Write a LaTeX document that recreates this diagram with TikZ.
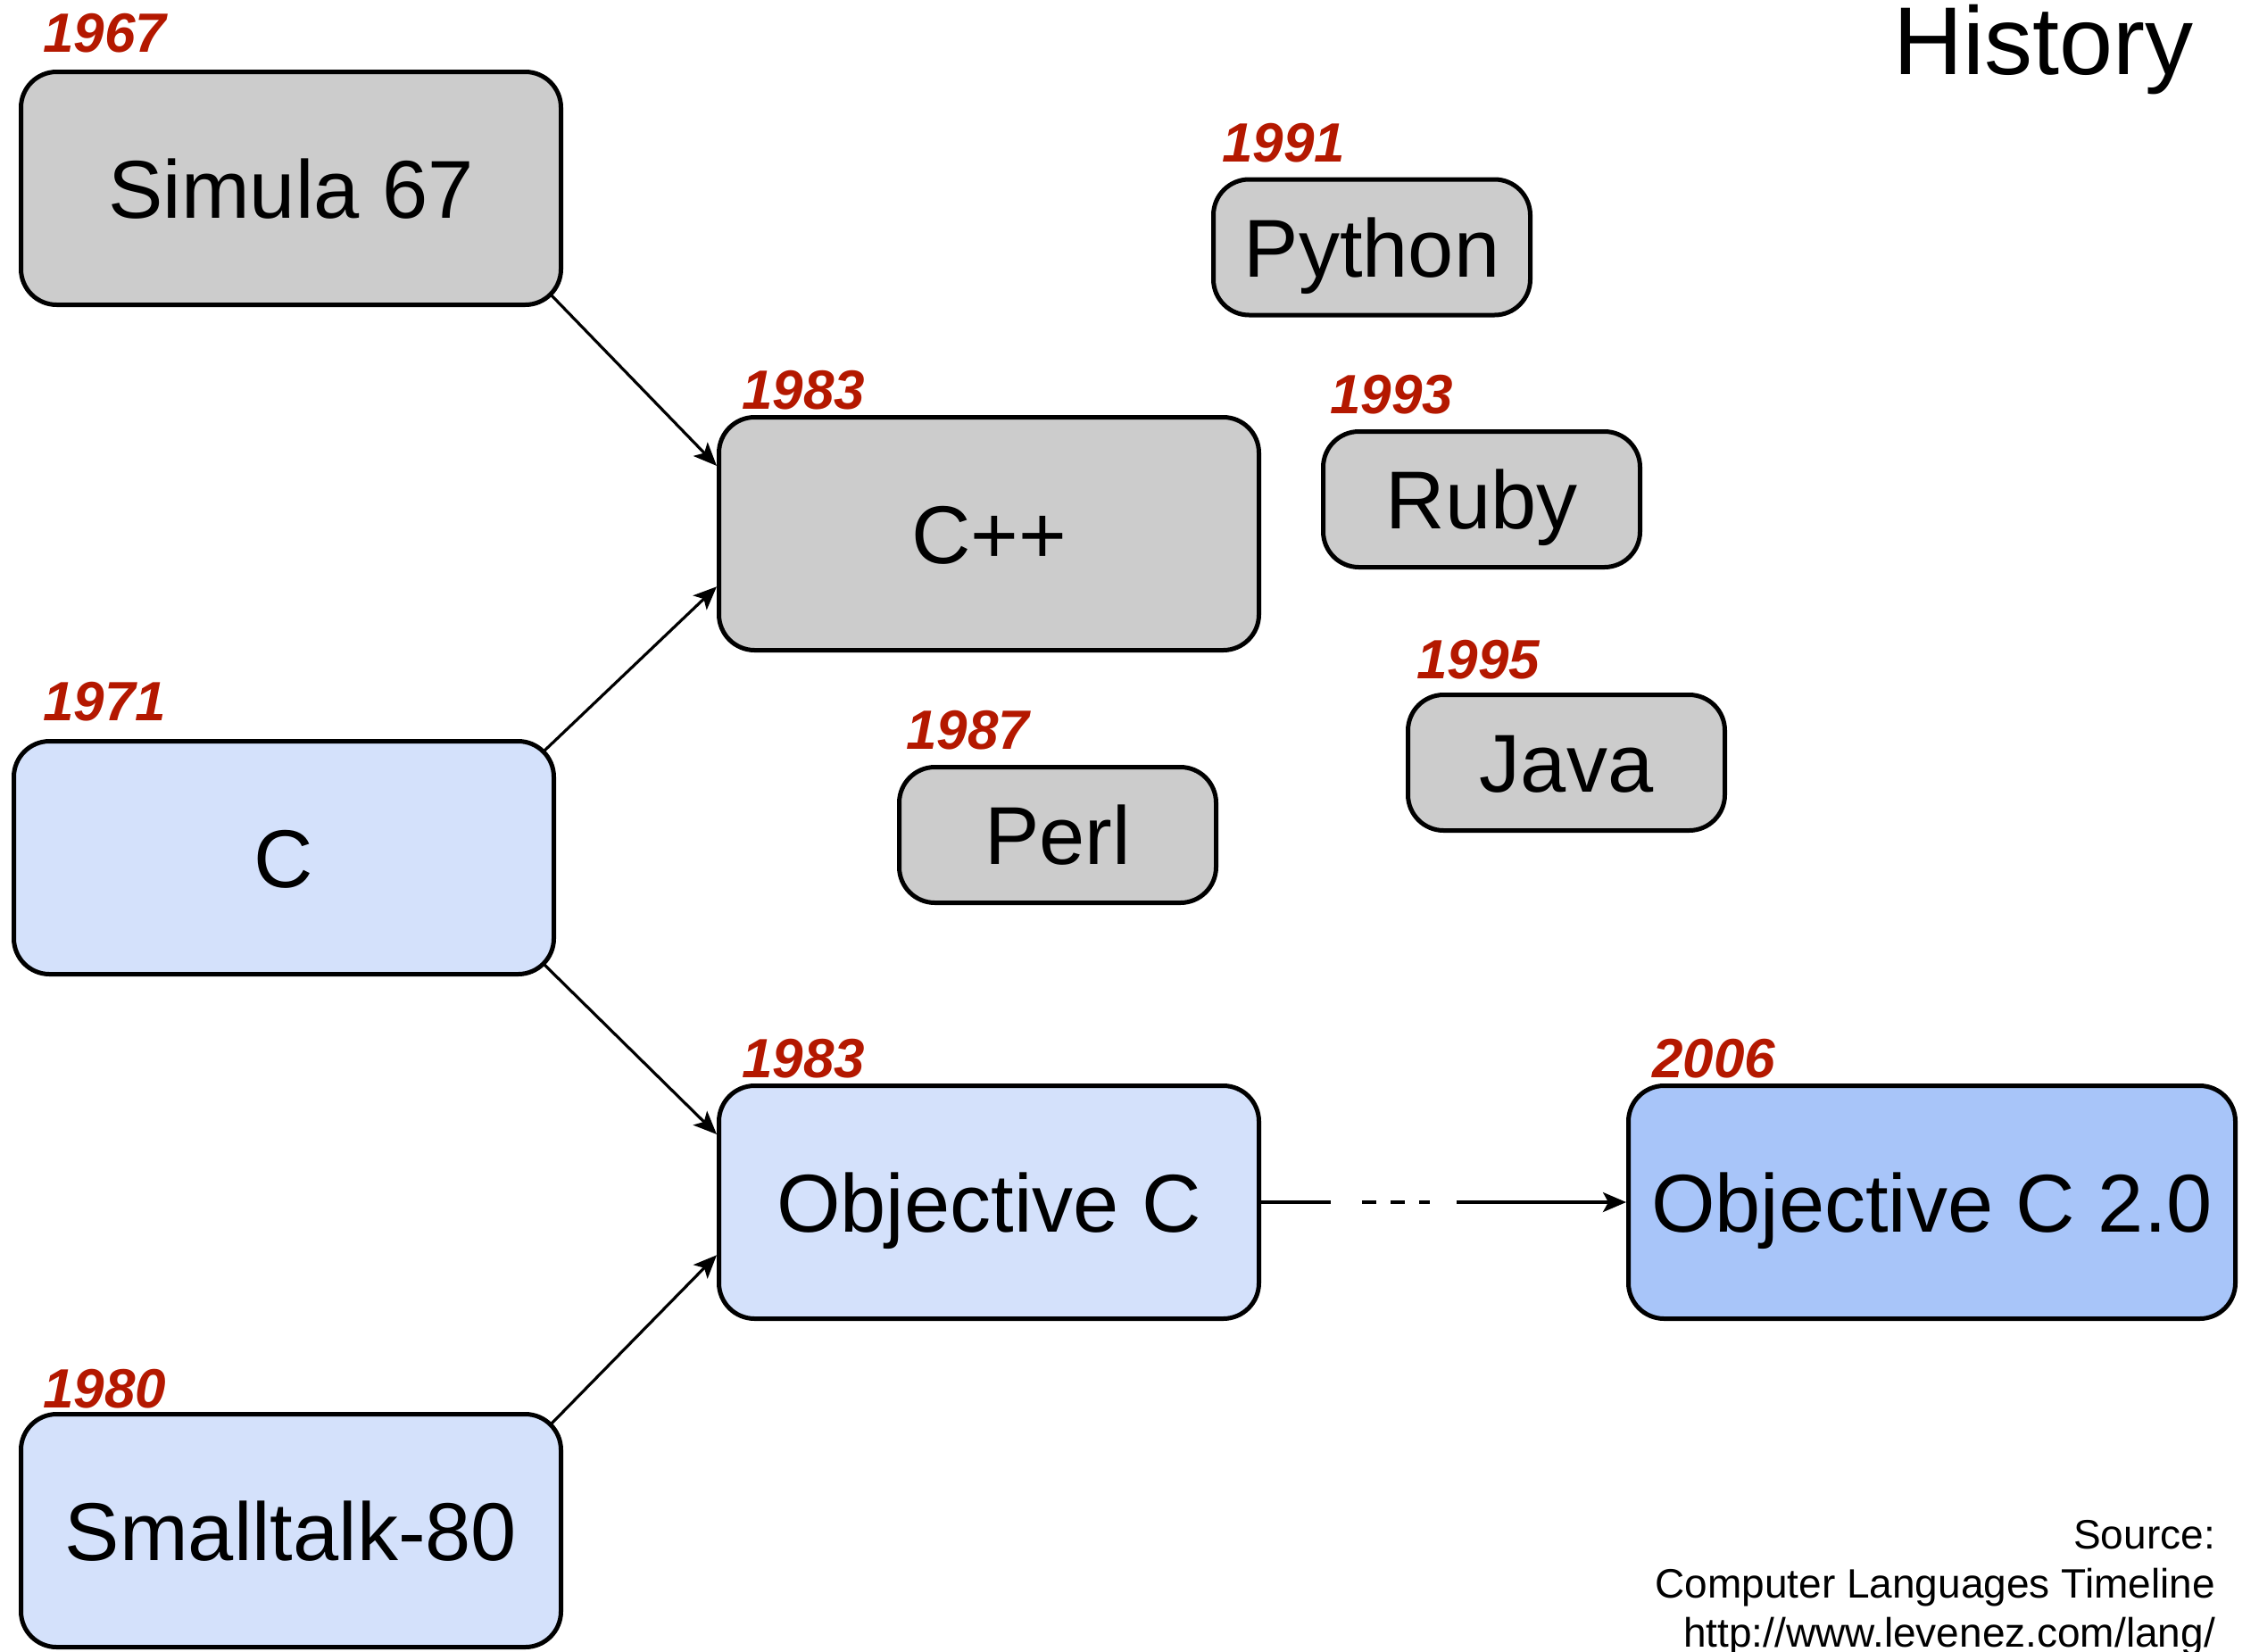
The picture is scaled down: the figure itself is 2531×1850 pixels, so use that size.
\documentclass[tikz,border=0pt]{standalone}
\usepackage{fontspec}
\setmainfont{Liberation Sans}
\usetikzlibrary{arrows.meta,calc}
\definecolor{boxgray}{RGB}{204,204,204}
\definecolor{lightblue}{RGB}{212,225,251}
\definecolor{midblue}{RGB}{168,197,249}
\definecolor{yearred}{RGB}{180,24,0}
\tikzset{
  lang/.style={draw=black, line width=5pt, rounded corners=40pt, inner sep=0pt,
    font=\fontsize{92}{106}\selectfont, text height=66pt, text depth=0pt},
  bigbox/.style={lang, minimum width=605pt, minimum height=261pt},
  smallbox/.style={lang, minimum width=355pt, minimum height=152pt},
  year/.style={anchor=base west, inner sep=0pt, text=yearred,
    font=\fontsize{62}{70}\selectfont\bfseries\itshape},
  conn/.style={line width=3.2pt, -{Stealth[length=26pt,width=22pt,inset=6pt]}},
  note/.style={anchor=base east, inner sep=0pt, font=\fontsize{46}{55}\selectfont}
}
\begin{document}
\begin{tikzpicture}[x=1pt,y=-1pt]
\useasboundingbox[fill=white] (0,0) rectangle (2531,1850);
% title
\node[anchor=base east, inner sep=0pt, font=\fontsize{108}{120}\selectfont] (title) at (2458,83) {History};
% boxes
\node[bigbox, fill=boxgray] (simula) at (326,211) {Simula 67};
\node[bigbox, fill=boxgray] (cpp) at (1108,598) {C++};
\node[bigbox, fill=lightblue] (c) at (318,961) {C};
\node[bigbox, fill=lightblue] (objc) at (1108,1347) {Objective C};
\node[lang, fill=midblue, minimum width=680pt, minimum height=261pt] (objc2) at (2164.5,1347) {Objective C 2.0};
\node[bigbox, fill=lightblue] (small) at (326,1715) {Smalltalk-80};
\node[smallbox, fill=boxgray] (python) at (1537,277) {Python};
\node[smallbox, fill=boxgray] (ruby) at (1660,559.5) {Ruby};
\node[smallbox, fill=boxgray] (java) at (1755,854.5) {Java};
\node[smallbox, fill=boxgray] (perl) at (1185,935.5) {Perl};
% years
\node[year] (y1967) at (48,58) {1967};
\node[year] (y1983a) at (831,458) {1983};
\node[year] (y1991) at (1369,181) {1991};
\node[year] (y1993) at (1490,463) {1993};
\node[year] (y1995) at (1587,760) {1995};
\node[year] (y1987) at (1015,839) {1987};
\node[year] (y1971) at (48,807) {1971};
\node[year] (y1983b) at (831,1207) {1983};
\node[year] (y2006) at (1851,1207) {2006};
\node[year] (y1980) at (48,1577) {1980};
% connectors
\draw[conn] ($(simula.south east)+(-14,-14)$) -- (cpp.166);
\draw[conn] ($(c.north east)+(-14,14)$) -- (cpp.191);
\draw[conn] ($(c.south east)+(-14,-14)$) -- (objc.166.5);
\draw[conn] ($(small.north east)+(-14,14)$) -- (objc.191.5);
\draw[conn, dash pattern=on 78pt off 35pt on 16pt off 16pt on 16pt off 16pt on 12pt off 30pt on 400pt] (objc.east) -- (objc2.west);
% source
\node[note] (src1) at (2482,1735) {Source:};
\node[note] (src2) at (2482,1790) {Computer Languages Timeline};
\node[note] (src3) at (2482,1845) {http://www.levenez.com/lang/};
\end{tikzpicture}
\end{document}
